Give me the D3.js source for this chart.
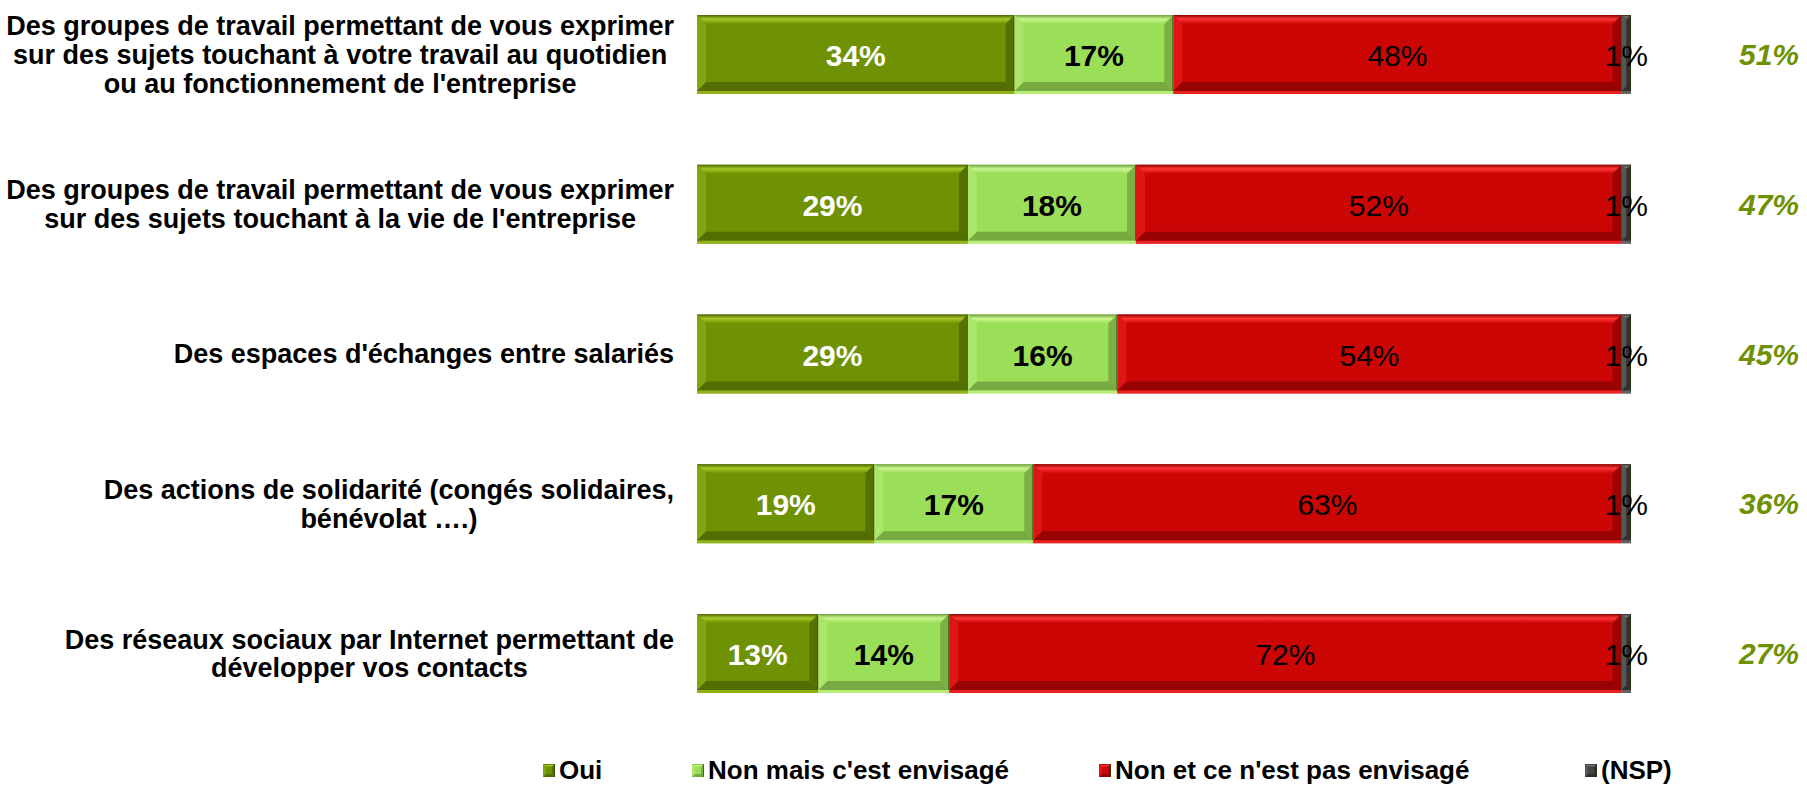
<!DOCTYPE html>
<html>
<head>
<meta charset="utf-8">
<script src="https://cdnjs.cloudflare.com/ajax/libs/d3/7.8.5/d3.min.js"></script>
<style>
body { margin: 0; background: #fff; }
svg { display: block; font-family: "Liberation Sans", Arial, sans-serif; }
</style>
</head>
<body>
<script>
// labels, one entry per line
var categories = [
    ["Des groupes de travail permettant de vous exprimer", "sur des sujets touchant à votre travail au quotidien", "ou au fonctionnement de l'entreprise"],
    ["Des groupes de travail permettant de vous exprimer", "sur des sujets touchant à la vie de l'entreprise"],
    ["Des espaces d'échanges entre salariés"],
    ["Des actions de solidarité (congés solidaires,", "bénévolat ….)"],
    ["Des réseaux sociaux par Internet permettant de", "développer vos contacts"]
];
var oui = [34, 29, 29, 19, 13];
var envisage = [17, 18, 16, 17, 14];
var nonEnvisage = [48, 52, 54, 63, 72];
var nsp = [1, 1, 1, 1, 1];
var totals = [51, 47, 45, 36, 27];
var seriesNames = ["Oui", "Non mais c'est envisagé", "Non et ce n'est pas envisagé", "(NSP)"];

var colors = ["#6f9104", "#9bde58", "#cc0505", "#444444"];
var lightC = ["#a6c826", "#c9f68e", "#ff3535", "#777777"];
var darkC = ["#4c6402", "#6e9e3c", "#8a0303", "#2a2a2a"];
var labelColors = ["#fff", "#000", "#000", "#000"];
var labelWeights = ["bold", "bold", "normal", "normal"];

var W = 1807, H = 785;
var svg = d3.select("body").append("svg").attr("width", W).attr("height", H);

var keys = ["k0", "k1", "k2", "k3"];
var rows = categories.map(function (c, i) {
    return { idx: i, k0: oui[i], k1: envisage[i], k2: nonEnvisage[i], k3: nsp[i] };
});
var stacked = d3.stack().keys(keys)(rows);

var x = d3.scaleLinear().domain([0, 100]).range([697, 1631]);
var y = d3.scaleBand().domain(d3.range(categories.length)).range([15, 693]).paddingInner(0.4725).paddingOuter(0);
var bh = y.bandwidth();

function bevel(g, x0, y0, w, h, si, b) {
    b = Math.min(b, w / 2);
    var e = h > 30 ? 3 : 0;
    g.append("rect").attr("x", x0).attr("y", y0).attr("width", w).attr("height", h).attr("fill", colors[si]);
    // top
    g.append("polygon")
        .attr("points", [[x0, y0], [x0 + w, y0], [x0 + w - b, y0 + b], [x0 + b, y0 + b]].join(" "))
        .attr("fill", "url(#top" + si + ")");
    // bottom
    g.append("polygon")
        .attr("points", [[x0, y0 + h - e], [x0 + w, y0 + h - e], [x0 + w - b, y0 + h - e - b], [x0 + b, y0 + h - e - b]].join(" "))
        .attr("fill", darkC[si]).attr("opacity", 0.8);
    if (e) {
        g.append("rect").attr("x", x0).attr("y", y0 + h - e).attr("width", w).attr("height", e)
            .attr("fill", lightC[si]).attr("opacity", 0.6);
    }
    // left
    g.append("polygon")
        .attr("points", [[x0, y0], [x0 + b, y0 + b], [x0 + b, y0 + h - e - b], [x0, y0 + h - e]].join(" "))
        .attr("fill", lightC[si]).attr("opacity", 0.35);
    // right
    g.append("polygon")
        .attr("points", [[x0 + w, y0], [x0 + w - b, y0 + b], [x0 + w - b, y0 + h - e - b], [x0 + w, y0 + h - e]].join(" "))
        .attr("fill", darkC[si]).attr("opacity", 0.7);
    g.append("line").attr("x1", x0 + w - 0.5).attr("x2", x0 + w - 0.5).attr("y1", y0).attr("y2", y0 + h - e)
        .attr("stroke", "#223300").attr("stroke-opacity", 0.6);
}

var defs = svg.append("defs");
colors.forEach(function (c, i) {
    var gr = defs.append("linearGradient").attr("id", "top" + i).attr("x1", 0).attr("x2", 0).attr("y1", 0).attr("y2", 1);
    gr.append("stop").attr("offset", "0%").attr("stop-color", darkC[i]);
    gr.append("stop").attr("offset", "45%").attr("stop-color", lightC[i]);
    gr.append("stop").attr("offset", "100%").attr("stop-color", c);
});

var bars = svg.append("g");
stacked.forEach(function (s, si) {
    s.forEach(function (d, i) {
        var x0 = x(d[0]), w = x(d[1]) - x(d[0]);
        bevel(bars, x0, y(i), w, bh, si, 9);
    });
});

// value labels
var vals = svg.append("g").attr("font-size", 30);
stacked.forEach(function (s, si) {
    vals.selectAll(null).data(s).enter().append("text")
        .attr("x", function (d) { return (x(d[0]) + x(d[1])) / 2; })
        .attr("y", function (d, i) { return y(i) + bh / 2 + 1; })
        .attr("dy", "0.35em")
        .attr("text-anchor", "middle")
        .attr("fill", labelColors[si])
        .attr("font-weight", labelWeights[si])
        .text(function (d) { return (d[1] - d[0]) + "%"; });
});

// totals at right
svg.append("g").selectAll("text").data(totals).enter().append("text")
    .attr("x", 1769).attr("y", function (d, i) { return y(i) + bh / 2; })
    .attr("dy", "0.35em").attr("text-anchor", "middle")
    .attr("font-size", 30).attr("font-weight", "bold").attr("font-style", "italic")
    .attr("fill", "#6f9000")
    .text(function (d) { return d + "%"; });

// category labels: block right aligned, lines centred
var lh = 28.8;
var labG = svg.append("g").attr("font-size", 27).attr("font-weight", "bold").attr("fill", "#000");
categories.forEach(function (lines, i) {
    var g = labG.append("g");
    var ts = g.selectAll("text").data(lines).enter().append("text")
        .attr("y", function (d, j) { return y(i) + bh / 2 + (j - (lines.length - 1) / 2) * lh; })
        .attr("dy", "0.35em")
        .text(function (d) { return d; });
    var maxW = 0;
    ts.each(function () { maxW = Math.max(maxW, this.getComputedTextLength()); });
    ts.attr("x", 674 - maxW / 2).attr("text-anchor", "middle");
});

// legend
var legX = [543, 692, 1099, 1585];
var leg = svg.append("g").attr("font-size", 26).attr("font-weight", "bold");
seriesNames.forEach(function (n, i) {
    var g = leg.append("g").attr("transform", "translate(" + legX[i] + ",0)");
    bevel(g, 0, 764, 12, 13, i, 3);
    g.append("text").attr("x", 16).attr("y", 779).text(n);
});
</script>
</body>
</html>
